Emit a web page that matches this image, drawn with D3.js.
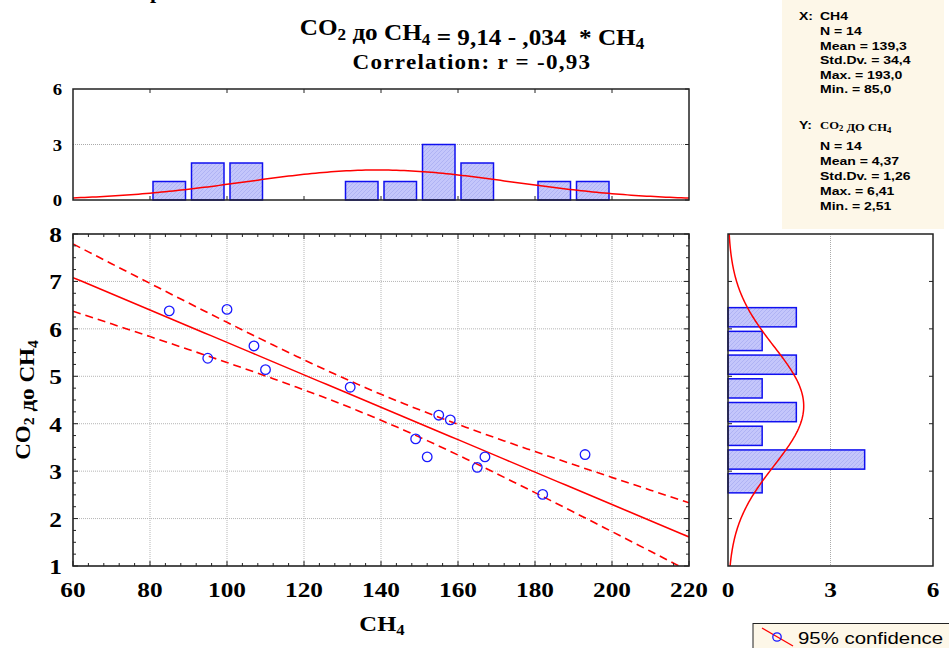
<!DOCTYPE html>
<html lang="en">
<head>
<meta charset="UTF-8">
<title>CO2 до CH4</title>
<style>
  body { margin: 0; background: #fff; }
  svg { display: block; }
  .serif { font-family: "Liberation Serif", "Times New Roman", serif; font-weight: bold; }
  .sans { font-family: "Liberation Sans", Arial, sans-serif; font-weight: bold; }
</style>
</head>
<body>
<script src="https://d3js.org/d3.v7.min.js"></script>
<script>
// data
var ch4 = [85, 95, 100, 107, 110, 132, 149, 152, 155, 158, 165, 167, 182, 193];
var co2 = [6.38, 5.38, 6.41, 5.64, 5.14, 4.77, 3.68, 3.30, 4.18, 4.08, 3.08, 3.30, 2.51, 3.35];
var xTicks = [60, 80, 100, 120, 140, 160, 180, 200, 220];
var yTicks = [1, 2, 3, 4, 5, 6, 7, 8];
var histTicks = [0, 3, 6];
var statsX = ["N = 14", "Mean = 139,3", "Std.Dv. = 34,4", "Max. = 193,0", "Min. = 85,0"];
var statsY = ["N = 14", "Mean = 4,37", "Std.Dv. = 1,26", "Max. = 6,41", "Min. = 2,51"];

const W = 949, H = 648;
const svg = d3.select("body").append("svg").attr("width", W).attr("height", H);

const x = d3.scaleLinear().domain([60, 220]).range([73, 689]);
const y = d3.scaleLinear().domain([1, 8]).range([566, 234]);
const yTop = d3.scaleLinear().domain([0, 6]).range([200, 89]);
const xRight = d3.scaleLinear().domain([0, 6]).range([728, 933]);

// hatch pattern for bars
const defs = svg.append("defs");
const pat = defs.append("pattern").attr("id", "hatch").attr("patternUnits", "userSpaceOnUse")
  .attr("width", 4).attr("height", 4);
pat.append("rect").attr("width", 4).attr("height", 4).attr("fill", "#c4c6fb");
pat.append("path").attr("d", "M-1,5 L5,-1").attr("stroke", "#aaaef2").attr("stroke-width", 0.8);
defs.append("clipPath").attr("id", "clipMain").append("rect")
  .attr("x", x(60)).attr("y", y(8)).attr("width", x(220) - x(60)).attr("height", y(1) - y(8));

// the original's text is a bit wider than tall, so texts get a horizontal stretch k
function label(g, cls, px, py, size, k, anchor) {
  return g.append("text").attr("class", cls)
    .attr("transform", "translate(" + px + "," + py + ") scale(" + k + ",1)")
    .attr("font-size", size).attr("text-anchor", anchor || "start");
}
// text with subscripts: parts = [[text, isSub], ...]
function richText(t, parts, size) {
  parts.forEach(function (p) {
    if (p[1]) {
      t.append("tspan").attr("font-size", size * 0.68).attr("dy", size * 0.2).text(p[0]);
      t.append("tspan").attr("font-size", size).attr("dy", -size * 0.2).text("");
    } else {
      t.append("tspan").attr("font-size", size).text(p[0]);
    }
  });
}

// stray bit of a cut title at the very top
svg.append("text").attr("class", "serif").attr("x", 150).attr("y", -2).attr("font-size", 22).text("p");

// title
const t1 = label(svg, "serif", 472, 35, 24, 1.05, "middle").style("white-space", "pre");
richText(t1, [["CO", 0], ["2", 1], [" до CH", 0], ["4", 1], [" = 9,14 - ,034  * CH", 0], ["4", 1]], 24);
label(svg, "serif", 472, 69, 22, 1.05, "middle").attr("letter-spacing", 1.2).text("Correlation: r = -0,93");

// stats box
const sb = svg.append("g");
sb.append("rect").attr("x", 782).attr("y", 0).attr("width", 162).attr("height", 229).attr("fill", "#fdf7e8");
label(sb, "sans", 799, 20, 11.5, 1.22).text("X:");
label(sb, "sans", 820, 20, 11.5, 1.22).text("CH4");
statsX.forEach(function (d, i) { label(sb, "sans", 820, 35 + i * 14.5, 11.5, 1.22).text(d); });
label(sb, "sans", 799, 129, 11.5, 1.22).text("Y:");
const ylab = label(sb, "serif", 820, 129, 11, 1.15);
richText(ylab, [["CO", 0], ["2", 1], [" ДО CH", 0], ["4", 1]], 11);
statsY.forEach(function (d, i) { label(sb, "sans", 820, 150 + i * 15, 11.5, 1.22).text(d); });

// binning with (lo, hi] intervals
function binCounts(vals, lo, hi, step) {
  var out = [];
  for (var a = lo; a < hi - 1e-9; a += step) {
    var b = a + step;
    var c = vals.filter(function (v) { return v > a + 1e-9 && v <= b + 1e-9; }).length;
    if (c > 0) out.push({ x0: a, x1: b, n: c });
  }
  return out;
}
function normPdf(v, m, s) { return Math.exp(-0.5 * ((v - m) / s) * ((v - m) / s)) / (s * Math.sqrt(2 * Math.PI)); }

const mx = d3.mean(ch4), sx = d3.deviation(ch4);
const my = d3.mean(co2), sy = d3.deviation(co2);
const n = ch4.length;

// ---------- top histogram ----------
const topG = svg.append("g");
topG.append("line").attr("x1", x(60)).attr("x2", x(220)).attr("y1", yTop(3)).attr("y2", yTop(3))
  .attr("stroke", "#aaa").attr("stroke-dasharray", "1,1");
const topBins = binCounts(ch4, 60, 220, 10);
topG.selectAll(".tb").data(topBins).enter().append("rect")
  .attr("x", function (d) { return x(d.x0) + 3; })
  .attr("width", function (d) { return x(d.x1) - x(d.x0) - 6; })
  .attr("y", function (d) { return yTop(d.n); })
  .attr("height", function (d) { return yTop(0) - yTop(d.n); })
  .attr("fill", "url(#hatch)").attr("stroke", "#1010f0").attr("stroke-width", 1.5);
const topCurve = d3.range(60, 220.5, 1).map(function (v) { return [v, n * 10 * normPdf(v, mx, sx)]; });
topG.append("path").datum(topCurve).attr("fill", "none").attr("stroke", "#ff0000").attr("stroke-width", 1.5)
  .attr("d", d3.line().x(function (d) { return x(d[0]); }).y(function (d) { return yTop(d[1]); }));
topG.append("rect").attr("x", x(60)).attr("y", yTop(6)).attr("width", x(220) - x(60)).attr("height", yTop(0) - yTop(6))
  .attr("fill", "none").attr("stroke", "#222").attr("stroke-width", 1.5);
xTicks.slice(1, -1).forEach(function (v) {
  topG.append("line").attr("x1", x(v)).attr("x2", x(v)).attr("y1", yTop(6)).attr("y2", yTop(6) + 4).attr("stroke", "#222");
  topG.append("line").attr("x1", x(v)).attr("x2", x(v)).attr("y1", yTop(0)).attr("y2", yTop(0) - 4).attr("stroke", "#222");
});
histTicks.forEach(function (v) {
  topG.append("line").attr("x1", x(220)).attr("x2", x(220) - 4).attr("y1", yTop(v)).attr("y2", yTop(v)).attr("stroke", "#222");
  label(topG, "serif", 62, yTop(v) + 6, 17, 1.1, "end").text(v);
});

// ---------- main scatter ----------
const main = svg.append("g");
xTicks.slice(1, -1).forEach(function (v) {
  main.append("line").attr("x1", x(v)).attr("x2", x(v)).attr("y1", y(8)).attr("y2", y(1))
    .attr("stroke", "#b5b5b5").attr("stroke-dasharray", "1,1");
});
yTicks.slice(1, -1).forEach(function (v) {
  main.append("line").attr("x1", x(60)).attr("x2", x(220)).attr("y1", y(v)).attr("y2", y(v))
    .attr("stroke", "#b5b5b5").attr("stroke-dasharray", "1,1");
});

// regression and 95% confidence band
const sxx = d3.sum(ch4, function (v) { return (v - mx) * (v - mx); });
const sxy = d3.sum(ch4, function (v, i) { return (v - mx) * (co2[i] - my); });
const b1 = sxy / sxx, b0 = my - b1 * mx;
const sse = d3.sum(ch4, function (v, i) { var r = co2[i] - (b0 + b1 * v); return r * r; });
const se = Math.sqrt(sse / (n - 2));
const tval = 2.1788;
const xs = d3.range(60, 220.5, 2);
const lineGen = d3.line().x(function (d) { return x(d[0]); }).y(function (d) { return y(d[1]); });
const band = function (sign) {
  return xs.map(function (v) {
    return [v, b0 + b1 * v + sign * tval * se * Math.sqrt(1 / n + (v - mx) * (v - mx) / sxx)];
  });
};
const lines = main.append("g").attr("clip-path", "url(#clipMain)");
lines.append("path").datum(xs.map(function (v) { return [v, b0 + b1 * v]; }))
  .attr("fill", "none").attr("stroke", "#ff0000").attr("stroke-width", 1.5).attr("d", lineGen);
[1, -1].forEach(function (s) {
  lines.append("path").datum(band(s)).attr("fill", "none").attr("stroke", "#ff0000")
    .attr("stroke-width", 1.6).attr("stroke-dasharray", "8,5").attr("d", lineGen);
});

main.selectAll(".pt").data(ch4).enter().append("circle")
  .attr("cx", function (d) { return x(d); })
  .attr("cy", function (d, i) { return y(co2[i]); })
  .attr("r", 4.8).attr("fill", "none").attr("stroke", "#1a1aff").attr("stroke-width", 1.3);

main.append("rect").attr("x", x(60)).attr("y", y(8)).attr("width", x(220) - x(60)).attr("height", y(1) - y(8))
  .attr("fill", "none").attr("stroke", "#222").attr("stroke-width", 1.6);
// ticks, inward, major + minor
d3.range(60, 220.01, 4).forEach(function (v) {
  var L = (v % 20 === 0) ? 5 : 3;
  main.append("line").attr("x1", x(v)).attr("x2", x(v)).attr("y1", y(1)).attr("y2", y(1) - L).attr("stroke", "#222");
  main.append("line").attr("x1", x(v)).attr("x2", x(v)).attr("y1", y(8)).attr("y2", y(8) + L).attr("stroke", "#222");
});
d3.range(1, 8.01, 0.25).forEach(function (v) {
  var L = (Math.abs(v - Math.round(v)) < 1e-6) ? 5 : 3;
  main.append("line").attr("x1", x(60)).attr("x2", x(60) + L).attr("y1", y(v)).attr("y2", y(v)).attr("stroke", "#222");
  main.append("line").attr("x1", x(220)).attr("x2", x(220) - L).attr("y1", y(v)).attr("y2", y(v)).attr("stroke", "#222");
});
xTicks.forEach(function (v) {
  label(main, "serif", x(v), 597, 22, 1.15, "middle").text(v);
});
yTicks.forEach(function (v) {
  label(main, "serif", 62, y(v) + 8, 22, 1.15, "end").text(v);
});
const xl = label(svg, "serif", 382, 631, 22, 1.12, "middle");
richText(xl, [["CH", 0], ["4", 1]], 22);
const yl = svg.append("text").attr("class", "serif").attr("transform", "translate(30,400) rotate(-90) scale(1.1,1)")
  .attr("text-anchor", "middle");
richText(yl, [["CO", 0], ["2", 1], [" до CH", 0], ["4", 1]], 21);

// ---------- right histogram ----------
const rh = svg.append("g");
rh.append("line").attr("x1", xRight(3)).attr("x2", xRight(3)).attr("y1", y(8)).attr("y2", y(1))
  .attr("stroke", "#aaa").attr("stroke-dasharray", "1,1");
const rBins = binCounts(co2, 1, 8, 0.5);
rh.selectAll(".rb").data(rBins).enter().append("rect")
  .attr("x", xRight(0))
  .attr("width", function (d) { return xRight(d.n) - xRight(0); })
  .attr("y", function (d) { return y(d.x1) + 2.5; })
  .attr("height", function (d) { return y(d.x0) - y(d.x1) - 4.5; })
  .attr("fill", "url(#hatch)").attr("stroke", "#1010f0").attr("stroke-width", 1.5);
const rCurve = d3.range(1, 8.01, 0.05).map(function (v) { return [v, n * 0.5 * normPdf(v, my, sy)]; });
rh.append("path").datum(rCurve).attr("fill", "none").attr("stroke", "#ff0000").attr("stroke-width", 1.5)
  .attr("d", d3.line().x(function (d) { return xRight(d[1]); }).y(function (d) { return y(d[0]); }));
rh.append("rect").attr("x", xRight(0)).attr("y", y(8)).attr("width", xRight(6) - xRight(0)).attr("height", y(1) - y(8))
  .attr("fill", "none").attr("stroke", "#222").attr("stroke-width", 1.5);
yTicks.slice(1, -1).forEach(function (v) {
  rh.append("line").attr("x1", xRight(0)).attr("x2", xRight(0) + 4).attr("y1", y(v)).attr("y2", y(v)).attr("stroke", "#222");
  rh.append("line").attr("x1", xRight(6)).attr("x2", xRight(6) - 4).attr("y1", y(v)).attr("y2", y(v)).attr("stroke", "#222");
});
histTicks.forEach(function (v) {
  label(rh, "serif", xRight(v), 597, 22, 1.15, "middle").text(v);
});

// ---------- legend ----------
const lg = svg.append("g");
lg.append("rect").attr("x", 753).attr("y", 623.5).attr("width", 200).attr("height", 30)
  .attr("fill", "#fdf7e8").attr("stroke", "#222").attr("stroke-width", 1);
lg.append("line").attr("x1", 762).attr("y1", 628).attr("x2", 793).attr("y2", 646).attr("stroke", "#ff0000").attr("stroke-width", 1.3);
lg.append("circle").attr("cx", 777).attr("cy", 637).attr("r", 4.2).attr("fill", "none").attr("stroke", "#1a1aff").attr("stroke-width", 1.3);
label(lg, "", 798, 644, 17, 1.2).attr("font-family", "'Liberation Sans', Arial, sans-serif").text("95% confidence");
</script>
</body>
</html>
